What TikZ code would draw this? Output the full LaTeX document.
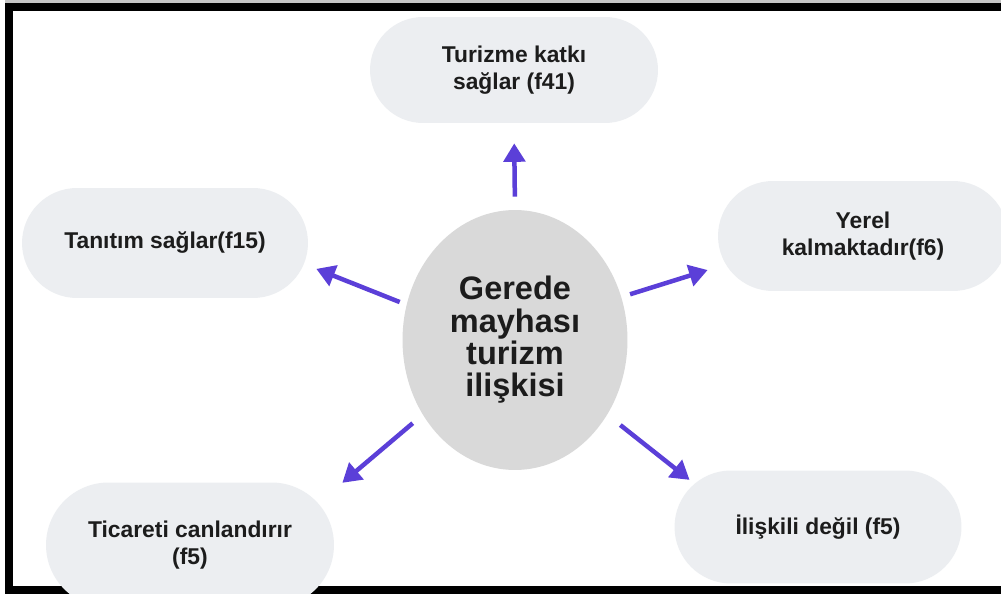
\documentclass[tikz,border=0pt]{standalone}
\usepackage{fontspec}
\setmainfont{Liberation Sans}
\usepackage{tikz}
\usetikzlibrary{shapes.geometric, arrows.meta}
\usepackage{xcolor}
\definecolor{pillcolor}{HTML}{ECEEF1}
\definecolor{corecolor}{HTML}{D9D9D9}
\definecolor{arrowcolor}{HTML}{5B3FD8}
\definecolor{inkcolor}{HTML}{1C1C1C}

\begin{document}
\begin{tikzpicture}[
    x=0.02cm, y=-0.02cm,
    pill/.style={rectangle, rounded corners=#1/2, minimum height=#1, minimum width=5.76cm, fill=pillcolor, text=inkcolor, align=center, inner sep=1pt, font=\fontsize{13}{15}\selectfont\bfseries},
    pill/.default=2.2cm,
    core/.style={ellipse, fill=corecolor, minimum width=4.5cm, minimum height=5.2cm, text=inkcolor, align=center, font=\fontsize{18.5}{18.4}\selectfont\bfseries},
    arrow/.style={-{Triangle[length=3.7mm, width=4.3mm]}, line width=0.9mm, arrowcolor},
]
\clip (0,0) rectangle (1001,594);
\fill[white] (0,0) rectangle (1001,594);

% Frame
\fill[gray!45] (5,0) rectangle (1001,4);
\draw[line width=1.6mm] (9,7.5) rectangle (1030,590);

% Centre
\node[core] (iliski) at (515,340) {Gerede\\mayhası\\turizm\\ilişkisi};

% Outcomes
\node[pill=2.12cm] (turizm) at (514,70) {Turizme katkı\\sağlar (f41)};
\node[pill, minimum width=5.72cm] (tanitim) at (165,243) {Tanıtım sağlar(f15)};
\node[pill, minimum width=5.8cm] (yerel) at (863,236) {Yerel\\kalmaktadır(f6)};
\node[pill=2.5cm] (ticaret) at (190,545) {Ticareti canlandırır\\(f5)};
\node[pill=2.26cm, minimum width=5.74cm] (degil) at (818,527) {İlişkili değil (f5)};

% Arrows out of the centre
\draw[arrow, shorten <=2.6mm, shorten >=4.0mm] (iliski.north) -- (turizm.south);
\draw[arrow, shorten <=1.44mm, shorten >=1.72mm] (iliski.162) -- (tanitim.-9);
\draw[arrow, shorten <=1.8mm, shorten >=2.1mm] (iliski.22) -- (yerel.-168);
\draw[arrow, shorten <=2.6mm, shorten >=2.1mm] (iliski.-141) -- (ticaret.21);
\draw[arrow, shorten <=3.3mm, shorten >=-3.14mm] (iliski.-39) -- (degil.158);

\end{tikzpicture}
\end{document}
